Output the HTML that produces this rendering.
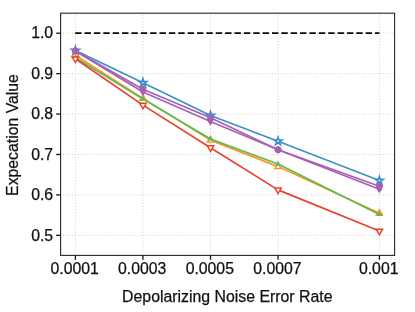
<!DOCTYPE html>
<html><head><meta charset="utf-8"><title>Chart</title>
<style>html,body{margin:0;padding:0;background:#fff;}body{width:415px;height:312px;overflow:hidden;font-family:"Liberation Sans",sans-serif;}svg{display:block;will-change:transform;}</style>
</head><body>
<svg width="415" height="312" viewBox="0 0 415 312">
<rect width="415" height="312" fill="#fff"/>
<g stroke="#cecece" stroke-width="1" fill="none">
<line x1="75.40" y1="255.35" x2="75.40" y2="13.20" stroke-dasharray="1 1.892" stroke-dashoffset="0.85"/>
<line x1="142.95" y1="255.35" x2="142.95" y2="13.20" stroke-dasharray="1 1.892" stroke-dashoffset="0.85"/>
<line x1="210.50" y1="255.35" x2="210.50" y2="13.20" stroke-dasharray="1 1.892" stroke-dashoffset="0.85"/>
<line x1="278.05" y1="255.35" x2="278.05" y2="13.20" stroke-dasharray="1 1.892" stroke-dashoffset="0.85"/>
<line x1="379.40" y1="255.35" x2="379.40" y2="13.20" stroke-dasharray="1 1.892" stroke-dashoffset="0.85"/>
<line x1="60.60" y1="33.20" x2="394.65" y2="33.20" stroke-dasharray="1 1.99" stroke-dashoffset="0.68"/>
<line x1="60.60" y1="73.63" x2="394.65" y2="73.63" stroke-dasharray="1 1.99" stroke-dashoffset="0.68"/>
<line x1="60.60" y1="114.06" x2="394.65" y2="114.06" stroke-dasharray="1 1.99" stroke-dashoffset="0.68"/>
<line x1="60.60" y1="154.49" x2="394.65" y2="154.49" stroke-dasharray="1 1.99" stroke-dashoffset="0.68"/>
<line x1="60.60" y1="194.92" x2="394.65" y2="194.92" stroke-dasharray="1 1.99" stroke-dashoffset="0.68"/>
<line x1="60.60" y1="235.35" x2="394.65" y2="235.35" stroke-dasharray="1 1.99" stroke-dashoffset="0.68"/>
</g>
<line x1="75.2" y1="33.1" x2="379.4" y2="33.1" stroke="#0a0a0a" stroke-width="1.75" stroke-dasharray="6.4 2.97"/>
<polyline points="75.40,50.50 142.95,82.80 210.50,115.50 278.05,141.25 379.40,180.50" fill="none" stroke="#3E91C7" stroke-width="1.70" stroke-linejoin="round"/>
<polygon points="75.40,46.50 76.30,49.26 79.20,49.26 76.85,50.97 77.75,53.74 75.40,52.03 73.05,53.74 73.95,50.97 71.60,49.26 74.50,49.26" fill="#fff" stroke="#3E91C7" stroke-width="1.7" stroke-linejoin="miter"/>
<polygon points="142.95,78.80 143.85,81.56 146.75,81.56 144.40,83.27 145.30,86.04 142.95,84.33 140.60,86.04 141.50,83.27 139.15,81.56 142.05,81.56" fill="#fff" stroke="#3E91C7" stroke-width="1.7" stroke-linejoin="miter"/>
<polygon points="210.50,111.50 211.40,114.26 214.30,114.26 211.95,115.97 212.85,118.74 210.50,117.03 208.15,118.74 209.05,115.97 206.70,114.26 209.60,114.26" fill="#fff" stroke="#3E91C7" stroke-width="1.7" stroke-linejoin="miter"/>
<polygon points="278.05,137.25 278.95,140.01 281.85,140.01 279.50,141.72 280.40,144.49 278.05,142.78 275.70,144.49 276.60,141.72 274.25,140.01 277.15,140.01" fill="#fff" stroke="#3E91C7" stroke-width="1.7" stroke-linejoin="miter"/>
<polygon points="379.40,176.50 380.30,179.26 383.20,179.26 380.85,180.97 381.75,183.74 379.40,182.03 377.05,183.74 377.95,180.97 375.60,179.26 378.50,179.26" fill="#fff" stroke="#3E91C7" stroke-width="1.7" stroke-linejoin="miter"/>
<polyline points="75.40,55.30 142.95,98.40 210.50,140.10 278.05,166.60 379.40,213.30" fill="none" stroke="#FF9914" stroke-width="1.70" stroke-linejoin="round"/>
<polygon points="75.40,51.70 72.28,57.10 78.52,57.10" fill="#fff" stroke="#FF9914" stroke-width="1.5"/>
<polygon points="142.95,94.80 139.83,100.20 146.07,100.20" fill="#fff" stroke="#FF9914" stroke-width="1.5"/>
<polygon points="210.50,136.50 207.38,141.90 213.62,141.90" fill="#fff" stroke="#FF9914" stroke-width="1.5"/>
<polygon points="278.05,163.00 274.93,168.40 281.17,168.40" fill="#fff" stroke="#FF9914" stroke-width="1.5"/>
<polygon points="379.40,209.70 376.28,215.10 382.52,215.10" fill="#fff" stroke="#FF9914" stroke-width="1.5"/>
<polyline points="75.40,57.60 142.95,98.97 210.50,138.97 278.05,164.00 379.40,214.40" fill="none" stroke="#5CB85C" stroke-width="1.70" stroke-linejoin="round"/>
<polygon points="75.40,54.30 72.54,59.25 78.26,59.25" fill="#5CB85C"/>
<polygon points="142.95,95.67 140.09,100.62 145.81,100.62" fill="#5CB85C"/>
<polygon points="210.50,135.67 207.64,140.62 213.36,140.62" fill="#5CB85C"/>
<polygon points="278.05,160.70 275.19,165.65 280.91,165.65" fill="#5CB85C"/>
<polygon points="379.40,211.10 376.54,216.05 382.26,216.05" fill="#5CB85C"/>
<polyline points="75.40,58.80 142.95,105.10 210.50,147.70 278.05,189.90 379.40,231.00" fill="none" stroke="#EA412D" stroke-width="1.70" stroke-linejoin="round"/>
<polygon points="75.40,62.50 72.20,56.95 78.60,56.95" fill="#fff" stroke="#EA412D" stroke-width="1.5"/>
<polygon points="142.95,108.80 139.75,103.25 146.15,103.25" fill="#fff" stroke="#EA412D" stroke-width="1.5"/>
<polygon points="210.50,151.40 207.30,145.85 213.70,145.85" fill="#fff" stroke="#EA412D" stroke-width="1.5"/>
<polygon points="278.05,193.60 274.85,188.05 281.25,188.05" fill="#fff" stroke="#EA412D" stroke-width="1.5"/>
<polygon points="379.40,234.70 376.20,229.15 382.60,229.15" fill="#fff" stroke="#EA412D" stroke-width="1.5"/>
<polyline points="75.40,51.00 142.95,89.30 210.50,117.70 278.05,149.80 379.40,186.20" fill="none" stroke="#A661B5" stroke-width="1.70" stroke-linejoin="round"/>
<circle cx="75.40" cy="51.00" r="3.1" fill="#A661B5" stroke="#A661B5" stroke-width="1"/>
<circle cx="142.95" cy="89.30" r="3.1" fill="#A661B5" stroke="#A661B5" stroke-width="1"/>
<circle cx="210.50" cy="117.70" r="3.1" fill="#A661B5" stroke="#A661B5" stroke-width="1"/>
<circle cx="278.05" cy="149.80" r="3.1" fill="#A661B5" stroke="#A661B5" stroke-width="1"/>
<circle cx="379.40" cy="186.20" r="3.1" fill="#A661B5" stroke="#A661B5" stroke-width="1"/>
<polyline points="75.40,51.00 142.95,92.00 210.50,121.50 278.05,149.80 379.40,189.30" fill="none" stroke="#A661B5" stroke-width="1.70" stroke-linejoin="round"/>
<polygon points="75.40,47.00 78.20,51.00 75.40,55.00 72.60,51.00" fill="#A661B5"/>
<polygon points="142.95,88.00 145.75,92.00 142.95,96.00 140.15,92.00" fill="#A661B5"/>
<polygon points="210.50,117.50 213.30,121.50 210.50,125.50 207.70,121.50" fill="#A661B5"/>
<polygon points="278.05,145.80 280.85,149.80 278.05,153.80 275.25,149.80" fill="#A661B5"/>
<polygon points="379.40,185.30 382.20,189.30 379.40,193.30 376.60,189.30" fill="#A661B5"/>
<rect x="60.6" y="13.2" width="334.0" height="242.2" fill="none" stroke="#262626" stroke-width="1.1"/>
<g stroke="#111" stroke-width="1.3">
<line x1="75.40" y1="255.35" x2="75.40" y2="259.75"/>
<line x1="142.95" y1="255.35" x2="142.95" y2="259.75"/>
<line x1="210.50" y1="255.35" x2="210.50" y2="259.75"/>
<line x1="278.05" y1="255.35" x2="278.05" y2="259.75"/>
<line x1="379.40" y1="255.35" x2="379.40" y2="259.75"/>
<line x1="56.20" y1="33.20" x2="60.60" y2="33.20"/>
<line x1="56.20" y1="73.63" x2="60.60" y2="73.63"/>
<line x1="56.20" y1="114.06" x2="60.60" y2="114.06"/>
<line x1="56.20" y1="154.49" x2="60.60" y2="154.49"/>
<line x1="56.20" y1="194.92" x2="60.60" y2="194.92"/>
<line x1="56.20" y1="235.35" x2="60.60" y2="235.35"/>
</g>
<g font-family="'Liberation Sans', sans-serif" font-size="15.8" fill="#111" stroke="#111" stroke-width="0.25">
<text x="53.1" y="38.4" text-anchor="end">1.0</text>
<text x="53.1" y="78.8" text-anchor="end">0.9</text>
<text x="53.1" y="119.3" text-anchor="end">0.8</text>
<text x="53.1" y="159.7" text-anchor="end">0.7</text>
<text x="53.1" y="200.1" text-anchor="end">0.6</text>
<text x="53.1" y="240.5" text-anchor="end">0.5</text>
<text x="74.7" y="273.9" text-anchor="middle">0.0001</text>
<text x="142.2" y="273.9" text-anchor="middle">0.0003</text>
<text x="209.8" y="273.9" text-anchor="middle">0.0005</text>
<text x="277.4" y="273.9" text-anchor="middle">0.0007</text>
<text x="378.7" y="273.9" text-anchor="middle">0.001</text>
<text x="227.3" y="301.9" font-size="15.85" text-anchor="middle">Depolarizing Noise Error Rate</text>
<text transform="translate(17.6,135.0) rotate(-90)" text-anchor="middle">Expecation Value</text>
</g>
</svg>
</body></html>
